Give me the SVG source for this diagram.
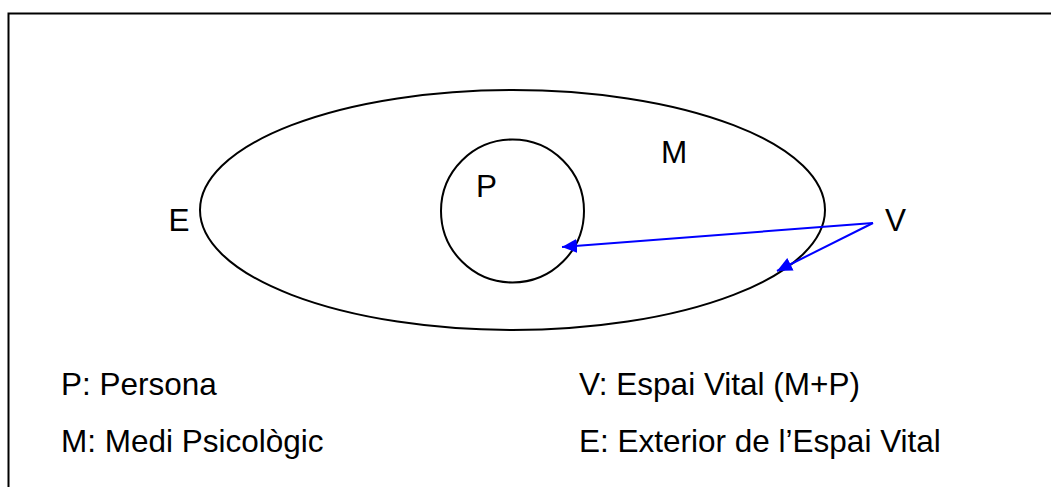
<svg xmlns="http://www.w3.org/2000/svg" width="1051" height="487" viewBox="0 0 1051 487">
<style>
text{font-family:"Liberation Sans",Arial,sans-serif;font-size:31.5px;fill:#000}
.shape{fill:none;stroke:#000;stroke-width:2}
.conn{fill:none;stroke:#0000ff;stroke-width:2}
</style>
<defs>
<marker id="ah" markerUnits="userSpaceOnUse" markerWidth="16" markerHeight="14" refX="15" refY="7" orient="auto">
<path d="M0,0 L15,7 L0,14 Z" fill="#0000ff"/>
</marker>
</defs>
<rect width="1051" height="487" fill="#fff"/>
<path class="shape" d="M8.5,487 V13.5 H1051"/>
<g id="E-node">
<ellipse class="shape" cx="512.5" cy="210" rx="312.5" ry="120"/>
<text x="168.5" y="231">E</text>
</g>
<g id="P-node">
<circle class="shape" cx="512.5" cy="211" r="71.5"/>
<text x="476" y="197">P</text>
</g>
<g id="M-node">
<text x="661" y="163">M</text>
</g>
<g id="V-node">
<text x="885" y="231">V</text>
</g>
<g id="connectors">
<line class="conn" x1="873" y1="223" x2="562" y2="247" marker-end="url(#ah)"/>
<line class="conn" x1="873" y1="223" x2="777" y2="271" marker-end="url(#ah)"/>
</g>
<g id="legend">
<text x="61" y="395">P: Persona</text>
<text x="61" y="452">M: Medi Psicològic</text>
<text x="579" y="395">V: Espai Vital (M+P)</text>
<text x="579" y="452">E: Exterior de l’Espai Vital</text>
</g>
</svg>
